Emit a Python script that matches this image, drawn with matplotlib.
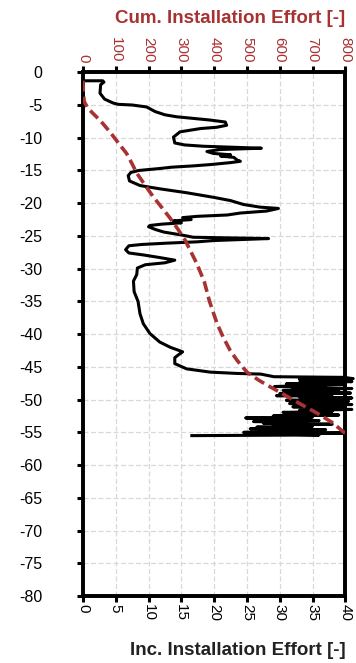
import matplotlib
matplotlib.use("Agg")
import matplotlib.pyplot as plt

plt.rcParams['axes.unicode_minus'] = False
plt.rcParams['font.family'] = ['Liberation Sans', 'DejaVu Sans']

# Incremental installation effort profile (depth [m], effort [-])
inc_depth = [-1.3, -1.3, -1.5, -1.9, -3.2, -4.1, -4.7, -4.9, -5.0, -5.3, -6.0, -6.5, -6.8, -7.0, -7.3,
             -7.6, -8.1, -8.4, -8.6, -9.1, -9.9, -10.8, -11.1, -11.3, -11.6, -11.8, -12.1, -12.4, -12.6,
             -12.8, -13.0, -13.4, -13.6, -13.8, -14.1, -14.3, -14.5, -14.7, -15.0, -15.3, -15.8, -16.6,
             -17.3, -17.8, -18.4, -19.1, -19.6, -20.2, -20.6, -20.8, -21.2, -21.5, -21.8, -22.0, -22.2,
             -22.5, -22.7, -23.0, -23.2, -23.4, -23.6, -24.0, -24.4, -24.9, -25.2, -25.4, -25.7, -25.9,
             -26.1, -26.3, -26.5, -27.1, -27.6, -27.9, -28.3, -28.7, -29.1, -29.4, -29.9, -30.9, -31.9,
             -33.5, -35.0, -36.9, -38.4, -39.9, -41.2, -42.0, -42.7, -43.2, -43.6, -44.5, -45.3, -45.8,
             -46.0, -46.1, -46.5,
             -46.6, -46.8, -46.9, -47.0, -47.1, -47.25, -47.4, -47.5, -47.6, -47.7, -47.85, -48.0, -48.1,
             -48.2, -48.3, -48.45, -48.6, -48.7, -48.85, -49.0, -49.1, -49.25, -49.4, -49.5, -49.6, -49.75,
             -49.9, -50.0, -50.1, -50.25, -50.4, -50.5, -50.6, -50.75, -50.9, -51.0, -51.1, -51.25, -51.4,
             -51.5, -51.65, -51.8, -51.95, -52.1, -52.2, -52.35, -52.5, -52.65, -52.8, -52.95, -53.05,
             -53.2, -53.35, -53.5, -53.6, -53.75, -53.9, -54.05, -54.2, -54.35, -54.45, -54.6, -54.75,
             -54.9, -55.0, -55.1, -55.25, -55.4, -55.5]
inc_effort = [0.25, 3.0, 3.2, 2.7, 2.6, 3.3, 4.6, 5.4, 7.5, 9.7, 11.0, 12.5, 14.3, 16.3, 19.4,
              21.7, 21.9, 20.4, 17.9, 14.8, 13.8, 14.0, 15.5, 18.4, 27.2, 20.9, 18.9, 19.9, 22.5,
              21.0, 23.0, 23.5, 24.0, 22.5, 19.4, 16.8, 13.5, 11.7, 8.5, 7.3, 6.9, 7.1,
              8.7, 11.7, 15.8, 19.9, 22.5, 24.5, 27.0, 29.8, 28.0, 24.0, 22.0, 17.5, 15.2,
              16.5, 13.8, 15.0, 12.0, 10.2, 10.0, 11.0, 12.3, 15.3, 16.8, 28.3, 20.0, 17.4,
              12.8, 9.0, 7.0, 6.5, 7.0, 9.2, 11.7, 14.0, 12.5, 9.5, 8.3, 8.2, 7.7,
              7.8, 8.4, 8.7, 9.2, 10.2, 11.7, 13.3, 15.2, 14.5, 14.0, 14.0, 15.8, 19.4,
              23.5, 27.1, 29.1,
              39.8, 41.2, 33.0, 40.5, 36.0, 41.0, 33.0, 38.0, 31.0, 40.0, 34.0, 29.2, 37.0,
              32.0, 41.0, 35.0, 30.5, 39.0, 33.0, 40.8, 30.0, 36.0, 29.5, 38.0, 33.0, 41.0,
              34.0, 39.0, 31.0, 40.5, 33.0, 38.0, 31.5, 41.0, 34.0, 39.5, 32.0, 40.0, 35.0,
              41.0, 33.0, 38.0, 30.5, 37.0, 31.0, 39.0, 29.0, 35.0, 24.8, 31.0, 28.0,
              36.0, 26.0, 33.0, 27.5, 38.0, 29.0, 35.0, 26.5, 32.0, 25.5, 37.0, 27.0,
              34.0, 24.5, 39.8, 29.0, 36.0, 16.6]

# Cumulative installation effort (depth [m], effort [-])
cum_depth = [-1.3, -3.0, -4.5, -5.5, -6.3, -7.5, -9.1, -10.8, -12.4, -14.0, -15.4, -17.0, -19.0,
             -20.7, -22.3, -24.0, -25.6, -27.5, -29.2, -32.0, -35.0, -38.4, -40.5, -42.5, -44.0,
             -45.8, -47.0, -47.8, -49.0, -50.1, -51.0, -52.1, -53.5, -55.2]
cum_effort = [0, 1, 4, 15, 31, 55, 82, 108, 133, 150, 164, 186, 214,
              241, 266, 290, 311, 330, 347, 370, 386, 409, 428, 449, 470,
              500, 535, 562, 605, 643, 675, 715, 760, 801]

inc_ticks = list(range(0, 41, 5))
cum_ticks = list(range(0, 801, 100))
depth_ticks = list(range(0, -81, -5))

RED = '#a83232'

fig = plt.figure(figsize=(3.56, 6.63), dpi=100)
ax = fig.add_axes([0.233, 0.101, 0.737, 0.790])

ax.plot(inc_effort, inc_depth, color='black', lw=2.2, clip_on=False, zorder=3)
ax.set_xlim(0, 40)
ax.set_ylim(-80, 0)
ax.set_xticks(inc_ticks)
ax.set_xticklabels([str(t) for t in inc_ticks])
ax.set_yticks(depth_ticks)
ax.set_yticklabels([str(t) for t in depth_ticks])
ax.grid(True, color='#d8d8d8', linestyle=(0, (4, 2)), lw=0.9)
ax.set_axisbelow(True)
ax.tick_params(axis='x', labelrotation=-90, direction='out', length=4, width=2.2,
               labelsize=11, pad=2, colors='black')
ax.tick_params(axis='y', direction='out', length=4, width=2.2, labelsize=11.5, pad=25)
ax.set_xlabel('Inc. Installation Effort [-]', fontsize=13.5, fontweight='bold',
              color='#222222', loc='right', labelpad=15)

ax2 = ax.twiny()
ax2.plot(cum_effort, cum_depth, color=RED, lw=2.6, linestyle=(0, (3, 1.4)), zorder=4)
ax2.set_xlim(0, 800)
ax2.set_xticks(cum_ticks)
ax2.set_xticklabels([str(t) for t in cum_ticks])
ax2.tick_params(axis='x', labelrotation=-90, direction='out', length=4, width=2.2,
                labelsize=11, pad=3, color='black', labelcolor=RED)
ax2.set_xlabel('Cum. Installation Effort [-]', fontsize=13.5, fontweight='bold',
               color=RED, loc='right', labelpad=10)

for a in (ax, ax2):
    for s in a.spines.values():
        s.set_linewidth(2.6)
        s.set_color('black')

fig.savefig('out.png', dpi=100)
